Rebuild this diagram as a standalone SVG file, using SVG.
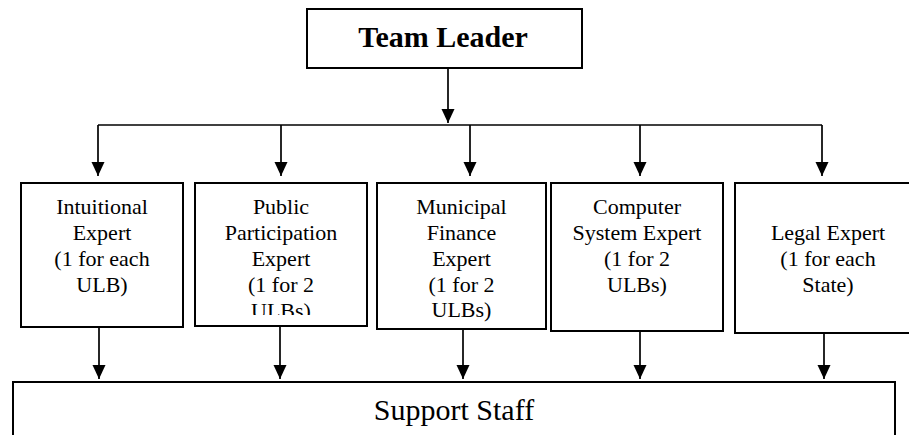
<svg xmlns="http://www.w3.org/2000/svg" width="909" height="435" viewBox="0 0 909 435">
<style>
.box{fill:#fff;stroke:#000;stroke-width:2}
.ln{fill:none;stroke:#000;stroke-width:1.7}
text{font-family:'Liberation Serif','DejaVu Serif',serif;fill:#000;text-anchor:middle}
.t{font-size:22px}
.big{font-size:30px}
</style>
<defs>
<marker id="ah" markerUnits="userSpaceOnUse" markerWidth="15" markerHeight="14" refX="14" refY="6.5" orient="auto">
<path d="M0,0 L14,6.5 L0,13 z" fill="#000"/>
</marker>
<clipPath id="c2"><rect x="196" y="184" width="170" height="131"/></clipPath>
</defs>
<rect width="909" height="435" fill="#fff"/>
<g id="connectors">
<line class="ln" x1="448" y1="69" x2="448" y2="123" marker-end="url(#ah)"/>
<line class="ln" x1="98" y1="125" x2="822" y2="125"/>
<line class="ln" x1="98" y1="125" x2="98" y2="176" marker-end="url(#ah)"/>
<line class="ln" x1="281" y1="125" x2="281" y2="176" marker-end="url(#ah)"/>
<line class="ln" x1="470" y1="125" x2="470" y2="176" marker-end="url(#ah)"/>
<line class="ln" x1="640" y1="125" x2="640" y2="176" marker-end="url(#ah)"/>
<line class="ln" x1="822" y1="125" x2="822" y2="176" marker-end="url(#ah)"/>
<line class="ln" x1="99" y1="328" x2="99" y2="379" marker-end="url(#ah)"/>
<line class="ln" x1="280" y1="327" x2="280" y2="379" marker-end="url(#ah)"/>
<line class="ln" x1="463" y1="330" x2="463" y2="379" marker-end="url(#ah)"/>
<line class="ln" x1="640" y1="332" x2="640" y2="379" marker-end="url(#ah)"/>
<line class="ln" x1="824" y1="334" x2="824" y2="379" marker-end="url(#ah)"/>
</g>
<g id="team-leader" font-family="'Liberation Serif','DejaVu Serif',serif">
<rect class="box" x="307" y="9" width="275" height="59"/>
<text class="big" x="443" y="47" font-weight="bold">Team Leader</text>
</g>
<g id="intuitional-expert" font-family="'Liberation Serif','DejaVu Serif',serif">
<rect class="box" x="21" y="183" width="162" height="144"/>
<text class="t" x="102" y="214">Intuitional</text>
<text class="t" x="102" y="240">Expert</text>
<text class="t" x="102" y="266">(1 for each</text>
<text class="t" x="102" y="292">ULB)</text>
</g>
<g id="public-participation-expert" font-family="'Liberation Serif','DejaVu Serif',serif">
<rect class="box" x="195" y="183" width="172" height="143"/>
<g clip-path="url(#c2)">
<text class="t" x="281" y="214">Public</text>
<text class="t" x="281" y="240">Participation</text>
<text class="t" x="281" y="266">Expert</text>
<text class="t" x="281" y="292">(1 for 2</text>
<text class="t" x="281" y="318">ULBs)</text>
</g>
</g>
<g id="municipal-finance-expert" font-family="'Liberation Serif','DejaVu Serif',serif">
<rect class="box" x="377" y="183" width="169" height="146"/>
<text class="t" x="461.5" y="214">Municipal</text>
<text class="t" x="461.5" y="240">Finance</text>
<text class="t" x="461.5" y="266">Expert</text>
<text class="t" x="461.5" y="292">(1 for 2</text>
<text class="t" x="461.5" y="317">ULBs)</text>
</g>
<g id="computer-system-expert" font-family="'Liberation Serif','DejaVu Serif',serif">
<rect class="box" x="551" y="183" width="172" height="148"/>
<text class="t" x="637" y="214">Computer</text>
<text class="t" x="637" y="240">System Expert</text>
<text class="t" x="637" y="266">(1 for 2</text>
<text class="t" x="637" y="292">ULBs)</text>
</g>
<g id="legal-expert" font-family="'Liberation Serif','DejaVu Serif',serif">
<rect class="box" x="735" y="183" width="190" height="150"/>
<text class="t" x="828" y="240">Legal Expert</text>
<text class="t" x="828" y="266">(1 for each</text>
<text class="t" x="828" y="292">State)</text>
</g>
<g id="support-staff" font-family="'Liberation Serif','DejaVu Serif',serif">
<rect class="box" x="13" y="382" width="882" height="70"/>
<text class="big" x="454" y="420">Support Staff</text>
</g>
</svg>
